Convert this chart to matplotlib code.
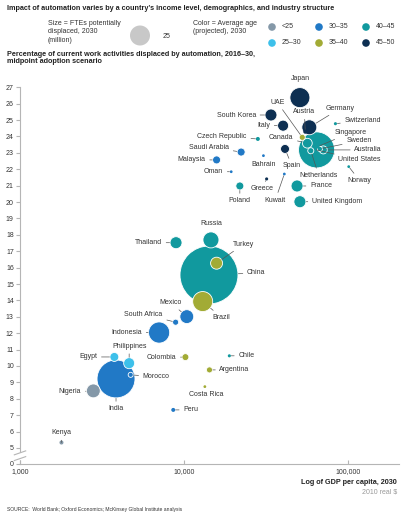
import numpy as np
import matplotlib
import matplotlib.pyplot as plt
import matplotlib.transforms as mtransforms

matplotlib.use("Agg")
plt.rcParams["font.family"] = ["Liberation Sans", "DejaVu Sans"]

# --- data ---
countries = [
    "Japan", "South Korea", "Italy", "Germany", "Austria", "UAE", "Switzerland",
    "Czech Republic", "Saudi Arabia", "Malaysia", "Oman", "Bahrain", "Spain",
    "Greece", "Kuwait", "Poland", "France", "United Kingdom", "United States",
    "Canada", "Netherlands", "Singapore", "Sweden", "Australia", "Norway",
    "Russia", "Turkey", "Thailand", "China", "Brazil", "Chile", "Argentina",
    "Costa Rica", "Peru", "Mexico", "South Africa", "Indonesia", "Colombia",
    "Egypt", "Philippines", "Morocco", "India", "Nigeria", "Kenya",
]
gdp = [
    50900, 33900, 40200, 58100, 54900, 52600, 83800,
    28200, 22300, 15800, 19400, 30500, 41300,
    31900, 40900, 21900, 48900, 50900, 64300,
    56500, 59300, 65300, 67400, 70700, 101000,
    14600, 15800, 8940, 14200, 13000, 18900, 14300,
    13400, 8600, 10400, 8890, 7050, 10200,
    3760, 4630, 4730, 3850, 2800, 1790,
]
pct = [
    26.37, 25.31, 24.66, 24.56, 24.29, 23.95, 24.78,
    23.85, 23.05, 22.57, 21.85, 22.83, 23.24,
    21.41, 21.71, 20.98, 20.98, 20.02, 23.18,
    23.59, 23.13, 23.38, 23.24, 23.18, 22.16,
    17.69, 16.27, 17.52, 15.55, 13.93, 10.62, 9.76,
    8.74, 7.32, 13.01, 12.67, 12.04, 10.54,
    10.55, 10.17, 9.46, 9.21, 8.48, 5.33,
]
fte = [
    25, 9, 7.6, 14, 1, 2.3, 0.6,
    1, 4, 4, 0.3, 0.1, 5,
    0.6, 0.3, 4, 9, 9, 81,
    6, 2.3, 1, 1.6, 4, 0.3,
    16, 9, 9, 210, 25, 0.6, 2.3,
    0.1, 1, 12, 2.3, 28, 3,
    5, 7.6, 1.6, 90, 12, 1,
]
age_group = [
    "45-50", "45-50", "45-50", "45-50", "45-50", "35-40", "40-45",
    "40-45", "30-35", "30-35", "30-35", "30-35", "45-50",
    "45-50", "30-35", "40-45", "40-45", "40-45", "40-45",
    "40-45", "40-45", "40-45", "40-45", "40-45", "40-45",
    "40-45", "35-40", "40-45", "40-45", "35-40", "40-45", "35-40",
    "35-40", "30-35", "30-35", "30-35", "30-35", "35-40",
    "25-30", "25-30", "30-35", "30-35", "<25", "<25",
]
age_bins = ["<25", "25-30", "30-35", "35-40", "40-45", "45-50"]
age_labels = ["<25", "25\u201330", "30\u201335", "35\u201340", "40\u201345", "45\u201350"]
legend_size_value = 25

# --- styling ---
age_colors = {
    "<25": "#8498a8", "25-30": "#3dc0ea", "30-35": "#2179c6",
    "35-40": "#a2ab35", "40-45": "#11999e", "45-50": "#0d2f52",
}
# label offsets in pixels from the bubble centre, alignment, leader line
label_style = {
    "Japan": (0, 19, "center", False),
    "South Korea": (-15, 0, "right", True),
    "Italy": (-13, 0, "right", True),
    "Germany": (31, 19, "center", True),
    "Austria": (-1, 20, "center", True),
    "UAE": (-25, 35, "center", True),
    "Switzerland": (9, 3, "left", True),
    "Czech Republic": (-11, 2, "right", True),
    "Saudi Arabia": (-12, 5, "right", True),
    "Malaysia": (-11, 0, "right", True),
    "Oman": (-8, 0, "right", True),
    "Bahrain": (0, -9, "center", False),
    "Spain": (7, -17, "center", True),
    "Greece": (-5, -10, "center", True),
    "Kuwait": (-9, -26, "center", True),
    "Poland": (0, -15, "center", True),
    "France": (13, 0, "left", True),
    "United Kingdom": (12, 0, "left", True),
    "United States": (43, -10, "center", True),
    "Canada": (-14, 6, "right", True),
    "Netherlands": (8, -25, "center", True),
    "Singapore": (33, 14, "center", True),
    "Sweden": (39, 8, "center", True),
    "Australia": (31, 0, "left", True),
    "Norway": (11, -14, "center", True),
    "Russia": (0, 16, "center", False),
    "Turkey": (27, 19, "center", True),
    "Thailand": (-14, 0, "right", True),
    "China": (38, 2, "left", True),
    "Brazil": (19, -16, "center", True),
    "Chile": (9, 0, "left", True),
    "Argentina": (10, 0, "left", True),
    "Costa Rica": (1, -8, "center", False),
    "Peru": (10, 0, "left", True),
    "Mexico": (-16, 14, "center", True),
    "South Africa": (-32, 8, "center", True),
    "Indonesia": (-17, 0, "right", True),
    "Colombia": (-9, 0, "right", True),
    "Egypt": (-17, 0, "right", True),
    "Philippines": (0, 17, "center", True),
    "Morocco": (12, -2, "left", True),
    "India": (0, -30, "center", True),
    "Nigeria": (-12, -1, "right", True),
    "Kenya": (0, 10, "center", True),
}

W, H = 414, 521
size_scale = (14.4 ** 2) / legend_size_value  # 25 million -> 20 px diameter
text_col = "#333333"
axis_col = "#b5b5b5"
line_col = "#555555"
fs = 5.0


def fx(px):
    return px / W


def fy(py):
    return 1 - py / H


fig = plt.figure(figsize=(W / 100, H / 100), dpi=100)
ax = fig.add_axes([fx(20), fy(464), fx(399) - fx(20), fy(87.3) - fy(464)])

sizes = np.array(fte) * size_scale
draw_sizes = np.maximum(sizes, 4.0)
edge_w = np.where(sizes > 12, 0.6, 0.0)
cols = np.array([age_colors[a] for a in age_group])
order = np.argsort(-sizes)
ax.scatter(np.array(gdp)[order], np.array(pct)[order], s=draw_sizes[order],
           c=cols[order], edgecolors="white", linewidths=edge_w[order], zorder=3)

for name, x, y, s in zip(countries, gdp, pct, draw_sizes):
    dx, dy, ha, line = label_style[name]
    r_pt = np.sqrt(s) / 2
    arrow = None
    if line:
        arrow = dict(arrowstyle="-", color=line_col, lw=0.5,
                     shrinkA=1, shrinkB=r_pt + 0.3)
    ax.annotate(name, (x, y), xytext=(dx, dy), textcoords="offset pixels",
                ha=ha, va="center", fontsize=fs, color=text_col,
                arrowprops=arrow, zorder=4)

ax.set_xscale("log")
ax.set_xlim(1000, 204600)
ax.set_ylim(4.02, 27)
ax.set_xticks([1000, 10000, 100000])
ax.set_xticklabels(["1,000", "10,000", "100,000"])
ax.xaxis.set_minor_locator(matplotlib.ticker.NullLocator())
yt = [4.02] + list(range(5, 28))
ax.set_yticks(yt)
ax.set_yticklabels(["0"] + [str(v) for v in range(5, 28)])
ax.tick_params(axis="x", direction="in", length=3, color=axis_col,
               labelsize=fs, labelcolor=text_col, pad=3)
ax.tick_params(axis="y", direction="out", length=3, color=axis_col,
               labelsize=fs, labelcolor=text_col, pad=1.5)
for side in ["top", "right"]:
    ax.spines[side].set_visible(False)
for side in ["left", "bottom"]:
    ax.spines[side].set_color(axis_col)
    ax.spines[side].set_linewidth(0.8)
ax.patch.set_visible(False)

# axis break between 0 and 5
tr = mtransforms.blended_transform_factory(ax.transAxes, ax.transData)
ax.fill_between([-0.01, 0.01], 4.35, 4.7, color="white", transform=tr,
                clip_on=False, zorder=5)
for yb in (4.35, 4.7):
    ax.plot([-0.015, 0.015], [yb - 0.12, yb + 0.12], color=axis_col, lw=0.8,
            transform=tr, clip_on=False, zorder=6)

# --- titles and legend ---
fig.text(fx(7), fy(9), "Impact of automation varies by a country\u2019s income level, "
         "demographics, and industry structure", fontsize=5.2, fontweight="bold",
         color="#222222", va="center")
fig.text(fx(48), fy(20), "Size = FTEs potentially\ndisplaced, 2030\n(million)",
         fontsize=fs, color=text_col, va="top", linespacing=1.25)
fig.text(fx(193), fy(20), "Color = Average age\n(projected), 2030",
         fontsize=fs, color=text_col, va="top", linespacing=1.25)
fig.text(fx(7), fy(58), "Percentage of current work activities displaced by automation, "
         "2016\u201330,\nmidpoint adoption scenario", fontsize=5.2, fontweight="bold",
         color="#222222", va="center", linespacing=1.15)

lax = fig.add_axes([0, 0, 1, 1])
lax.set_xlim(0, W)
lax.set_ylim(H, 0)
lax.axis("off")
lax.scatter([140], [35.5], s=legend_size_value * size_scale, color="#c8c8c8",
            edgecolors="none")
fig.text(fx(163), fy(37), str(legend_size_value), fontsize=fs, color=text_col,
         va="center")
leg_x = [272, 272, 319, 319, 366, 366]
leg_y = [27, 43, 27, 43, 27, 43]
for key, lab, lx, ly in zip(age_bins, age_labels, leg_x, leg_y):
    lax.scatter([lx], [ly], s=30, color=age_colors[key], edgecolors="none")
    fig.text(fx(lx + 10), fy(ly), lab, fontsize=fs, color=text_col, va="center")

fig.text(fx(397), fy(483), "Log of GDP per capita, 2030", fontsize=5.2,
         fontweight="bold", color="#222222", ha="right", va="center")
fig.text(fx(397), fy(492), "2010 real $", fontsize=fs, color="#999999",
         ha="right", va="center")
fig.text(fx(7), fy(509), "SOURCE:  World Bank; Oxford Economics; McKinsey Global "
         "Institute analysis", fontsize=3.6, color=text_col, va="center")

fig.savefig("out.png", dpi=100)
